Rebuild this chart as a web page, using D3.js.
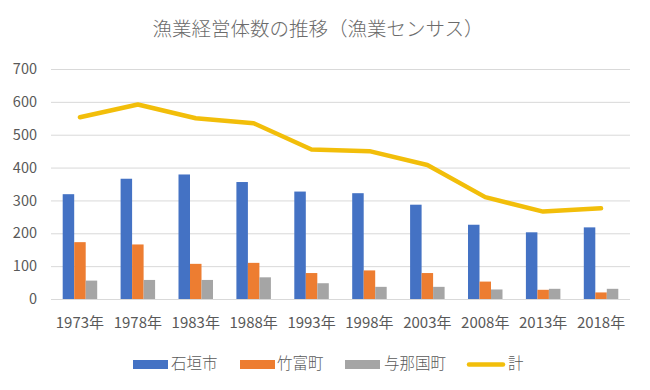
<!DOCTYPE html>
<html><head><meta charset="utf-8">
<script src="https://cdn.jsdelivr.net/npm/d3@7/dist/d3.min.js"></script>
<style>body{margin:0;background:#fff;}svg{display:block;}</style>
</head><body>
<script>
const categories = ["1973年","1978年","1983年","1988年","1993年","1998年","2003年","2008年","2013年","2018年"];
const ishigaki = [319,366,379,356,327,322,287,226,203,218];
const taketomi = [173,166,107,110,79,87,79,53,28,20];
const yonaguni = [56,58,58,66,48,37,37,29,31,31];
const total = [553,592,550,535,455,450,408,310,266,276];
const yTicks = [0,100,200,300,400,500,600,700];
const seriesNames = ["石垣市","竹富町","与那国町","計"];
const titleText = "漁業経営体数の推移（漁業センサス）";

const W=650,H=390;
const font = "'Noto Sans CJK JP','Noto Sans',sans-serif";
const colors = ["#4472C4","#ED7D31","#A5A5A5","#F2BE0A"];
const svg = d3.select("body").append("svg").attr("width",W).attr("height",H).style("font-family",font);
svg.append("rect").attr("width",W).attr("height",H).attr("fill","#fff");

const x = d3.scaleBand().domain(categories).range([51,630]).paddingInner(0).paddingOuter(0);
const y = d3.scaleLinear().domain([0,700]).range([299,69]);
const sub = d3.scaleBand().domain([0,1,2]).range([0,34.5]);
const groupOff = (x.bandwidth()-34.5)/2;

// gridlines
svg.append("g").selectAll("line").data(yTicks).join("line")
  .attr("x1",51).attr("x2",630).attr("y1",d=>y(d)+0.5).attr("y2",d=>y(d)+0.5)
  .attr("stroke","#D9D9D9").attr("stroke-width",1);

// y labels
svg.append("g").selectAll("text").data(yTicks).join("text")
  .attr("x",37).attr("y",d=>y(d)).attr("dy","0.35em").attr("text-anchor","end")
  .attr("font-size",14.5).attr("fill","#595959").text(d=>d);

// bars
const series=[ishigaki,taketomi,yonaguni];
series.forEach((s,i)=>{
  svg.append("g").selectAll("rect").data(s).join("rect")
    .attr("x",(d,j)=>x(categories[j])+groupOff+sub(i))
    .attr("width",sub.bandwidth())
    .attr("y",d=>y(d)).attr("height",d=>y(0)-y(d))
    .attr("fill",colors[i]);
});

// line
const line = d3.line().x((d,j)=>x(categories[j])+x.bandwidth()/2).y(d=>y(d));
svg.append("path").datum(total).attr("d",line).attr("fill","none")
  .attr("stroke",colors[3]).attr("stroke-width",4.5).attr("stroke-linejoin","round").attr("stroke-linecap","round");

// x labels
svg.append("g").selectAll("text").data(categories).join("text")
  .attr("x",d=>x(d)+x.bandwidth()/2).attr("y",323).attr("dy","0.35em").attr("text-anchor","middle")
  .attr("font-size",15).attr("fill","#595959").text(d=>d);

// title
svg.append("text").attr("x",318).attr("y",29).attr("dy","0.35em").attr("text-anchor","middle")
  .attr("font-size",19.5).attr("font-weight",300).attr("fill","#6b6b6b").text(titleText);

// legend
const legX=[133,240,345,467];
const legTextX=[171,277,384,508];
seriesNames.forEach((n,i)=>{
  if(i<3){
    svg.append("rect").attr("x",legX[i]).attr("y",360).attr("width",35).attr("height",9).attr("fill",colors[i]);
  } else {
    svg.append("line").attr("x1",legX[i]+2).attr("x2",legX[i]+36).attr("y1",364.5).attr("y2",364.5)
      .attr("stroke",colors[3]).attr("stroke-width",4.5).attr("stroke-linecap","round");
  }
  svg.append("text").attr("x",legTextX[i]).attr("y",364).attr("dy","0.35em")
    .attr("font-size",15.5).attr("font-weight",300).attr("fill","#595959").text(n);
});
</script>
</body></html>
